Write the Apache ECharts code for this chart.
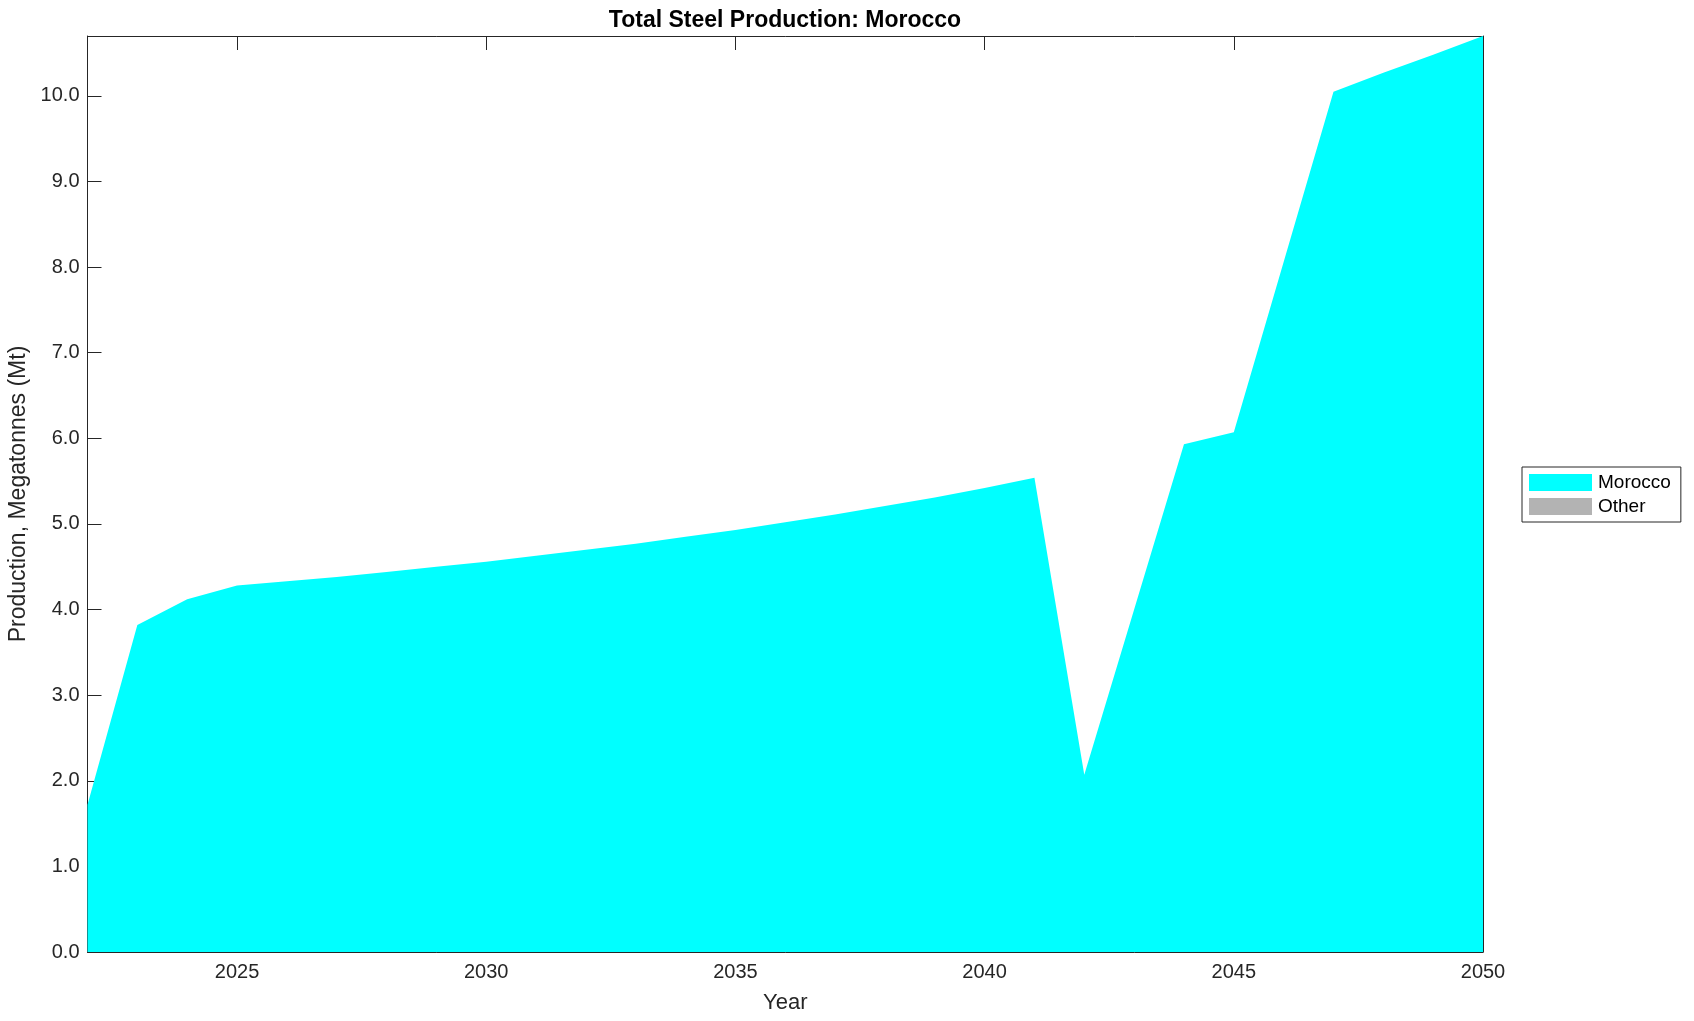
<!DOCTYPE html>
<html><head><meta charset="utf-8">
<script src="https://cdn.jsdelivr.net/npm/echarts@6/dist/echarts.min.js"></script>
<style>html,body{margin:0;padding:0;background:#fff}#c{width:1694px;height:1021px}</style>
</head><body><div id="c"></div>
<script>
const years = [2022,2023,2024,2025,2026,2027,2028,2029,2030,2031,2032,2033,2034,2035,2036,2037,2038,2039,2040,2041,2042,2043,2044,2045,2046,2047,2048,2049,2050];
const morocco = [1.72,3.82,4.12,4.28,4.33,4.38,4.44,4.50,4.56,4.63,4.70,4.77,4.85,4.93,5.02,5.11,5.21,5.31,5.42,5.54,2.07,4.00,5.93,6.07,8.06,10.05,10.27,10.48,10.70];
const other = years.map(() => 0);
const xTicks = [2025,2030,2035,2040,2045,2050];
const yTicks = [0,1,2,3,4,5,6,7,8,9,10];

const FONT = 'Liberation Sans';
const TXT = '#262626';
const chart = echarts.init(document.getElementById('c'));
const pairs = (arr) => years.map((y, i) => [y, arr[i]]);
const axisCommon = {
  axisLine: {show: true, onZero: false, lineStyle: {color: TXT, width: 1}},
  splitLine: {show: false}
};
chart.setOption({
  animation: false,
  textStyle: {fontFamily: FONT},
  title: {
    text: 'Total Steel Production: Morocco',
    left: 785, top: 9, textAlign: 'center', padding: 0,
    textStyle: {fontFamily: FONT, fontWeight: 'bold', fontSize: 23, color: '#000'}
  },
  legend: {
    orient: 'vertical', left: 1522, top: 467,
    itemWidth: 63, itemHeight: 17, itemGap: 5,
    padding: [6, 10, 6, 7],
    borderColor: '#262626', borderWidth: 1,
    icon: 'rect',
    textStyle: {fontFamily: FONT, fontSize: 19, color: '#000', padding: [0, 0, 0, 1]},
    data: ['Morocco', 'Other']
  },
  grid: {left: 87.5, right: 211, top: 36, bottom: 69, containLabel: false, outerBoundsMode: 'none'},
  xAxis: [
    Object.assign({
      type: 'value', min: 2022, max: 2050, position: 'bottom',
      name: 'Year', nameLocation: 'middle', nameGap: 40,
      nameTextStyle: {fontFamily: FONT, fontSize: 22, color: TXT},
      axisTick: {show: true, inside: true, length: 14, customValues: xTicks, lineStyle: {color: TXT}},
      axisLabel: {show: true, customValues: xTicks, margin: 10, fontFamily: FONT, fontSize: 20, color: TXT, formatter: v => String(v)}
    }, axisCommon),
    Object.assign({
      type: 'value', min: 2022, max: 2050, position: 'top',
      axisTick: {show: true, inside: true, length: 14, customValues: xTicks, lineStyle: {color: TXT}},
      axisLabel: {show: false}
    }, axisCommon)
  ],
  yAxis: [
    Object.assign({
      type: 'value', min: 0, max: 10.7, position: 'left',
      name: 'Production, Megatonnes (Mt)', nameLocation: 'middle', nameGap: 56,
      nameTextStyle: {fontFamily: FONT, fontSize: 23, color: TXT},
      axisTick: {show: true, inside: true, length: 14, customValues: yTicks, lineStyle: {color: TXT}},
      axisLabel: {show: true, customValues: yTicks, margin: 8, fontFamily: FONT, fontSize: 20, color: TXT, formatter: v => v.toFixed(1)}
    }, axisCommon),
    Object.assign({
      type: 'value', min: 0, max: 10.7, position: 'right',
      axisTick: {show: true, inside: true, length: 14, customValues: yTicks, lineStyle: {color: TXT}},
      axisLabel: {show: false}
    }, axisCommon)
  ],
  series: [
    {name: 'Morocco', type: 'line', stack: 'total', data: pairs(morocco),
     showSymbol: false, symbol: 'none', lineStyle: {width: 0}, itemStyle: {color: '#00ffff'},
     areaStyle: {color: '#00ffff', opacity: 1}, z: 1},
    {name: 'Other', type: 'line', stack: 'total', data: pairs(other),
     showSymbol: false, symbol: 'none', lineStyle: {width: 0}, itemStyle: {color: '#b3b3b3'},
     areaStyle: {color: '#b3b3b3', opacity: 1}, z: 1}
  ]
});
</script></body></html>
